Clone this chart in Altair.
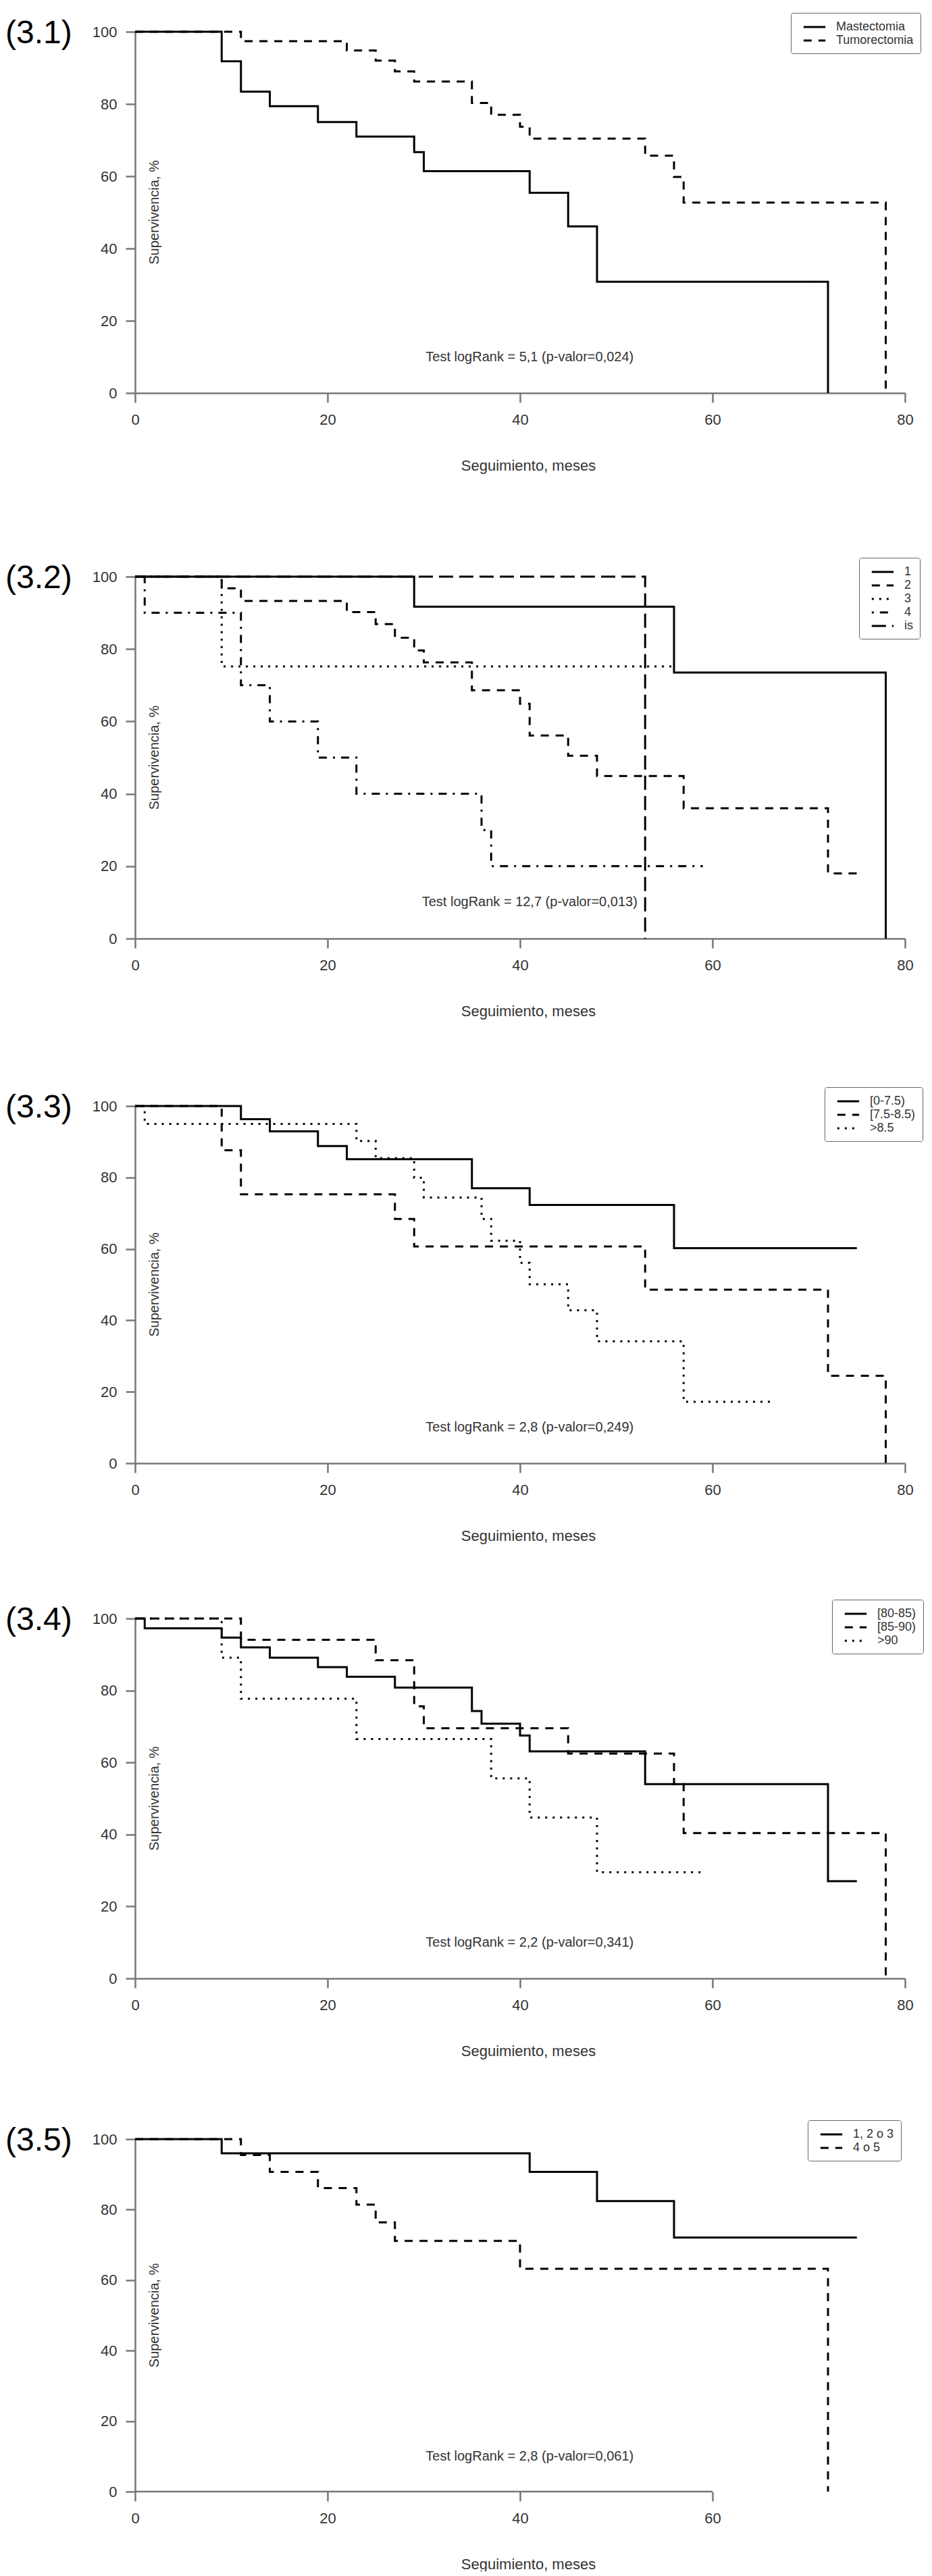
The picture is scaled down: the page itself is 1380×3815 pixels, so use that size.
import altair as alt
import pandas as pd

FONT = "Liberation Sans"
GRIS = "#777777"
TEXTO = "#333333"

# (3.1) tipo de cirugia
mastectomia_t = [0, 9, 11, 14, 19, 23, 29, 30, 41, 45, 48, 72]
mastectomia_s = [100, 91.8, 83.4, 79.4, 75.0, 71.0, 66.7, 61.4, 55.4, 46.1, 30.8, 0]
tumorectomia_t = [0, 11, 22, 25, 27, 29, 35, 37, 40, 41, 53, 56, 57, 78]
tumorectomia_s = [100, 97.4, 94.8, 92.0, 89.0, 86.2, 80.3, 77.0, 73.7, 70.4, 65.7, 59.8, 52.7, 0]

# (3.2) estadio
e1_t = [0, 29, 56, 78]
e1_s = [100, 91.7, 73.5, 0]
e2_t = [0, 9, 11, 22, 25, 27, 29, 30, 35, 40, 41, 45, 48, 57, 72, 75]
e2_s = [100, 96.8, 93.3, 90.2, 86.9, 83.1, 79.6, 76.3, 68.6, 64.9, 56.1, 50.5, 44.9, 36.0, 18.0, 18.0]
e3_t = [0, 9, 56]
e3_s = [100, 75.2, 75.2]
e4_t = [0, 1, 11, 14, 19, 23, 36, 37, 59]
e4_s = [100, 90, 70, 60, 50, 40, 30, 20, 20]
eis_t = [0, 53]
eis_s = [100, 0]

# (3.3)
c1_t = [0, 11, 14, 19, 22, 35, 41, 56, 75]
c1_s = [100, 96.3, 92.9, 88.8, 85.1, 77.0, 72.3, 60.2, 60.2]
c2_t = [0, 9, 11, 27, 29, 53, 72, 78]
c2_s = [100, 87.6, 75.3, 68.4, 60.7, 48.6, 24.5, 0]
c3_t = [0, 1, 23, 25, 29, 30, 36, 37, 40, 41, 45, 48, 57, 66]
c3_s = [100, 95.0, 90.2, 85.4, 79.9, 74.4, 68.4, 62.3, 56.1, 50.1, 42.8, 34.1, 17.2, 17.2]

# (3.4)
d1_t = [0, 1, 9, 11, 14, 19, 22, 27, 35, 36, 40, 41, 53, 72, 75]
d1_s = [100, 97.3, 94.7, 92.0, 89.1, 86.5, 83.8, 80.8, 74.3, 70.8, 67.5, 63.1, 54.0, 27.0, 27.0]
d2_t = [0, 11, 25, 29, 30, 45, 56, 57, 78]
d2_s = [100, 94.1, 88.4, 75.6, 69.5, 62.5, 54.0, 40.4, 0]
d3_t = [0, 9, 11, 23, 37, 41, 48, 59]
d3_s = [100, 89.1, 77.7, 66.5, 55.6, 44.7, 29.5, 29.5]

# (3.5)
f1_t = [0, 9, 41, 48, 56, 75]
f1_s = [100, 96.0, 90.7, 82.4, 72.1, 72.1]
f2_t = [0, 11, 14, 19, 23, 25, 27, 40, 72]
f2_s = [100, 95.5, 90.7, 86.1, 81.4, 76.4, 71.1, 63.2, 0]

SOLID = [1, 0]
DASHED = [12, 10]
DOTTED = [3, 8]
DOTDASH = [3, 9, 12, 9]
LONGDASH = [21, 9]


def panel(etiqueta, series, nombres, trazos, test, legend_x, extra, height,
          x_ticks=(0, 20, 40, 60, 80)):
    rows = []
    for nombre, (ts, ss) in zip(nombres, series):
        for t, s in zip(ts, ss):
            rows.append({"t": t, "s": s, "grupo": nombre})
    df = pd.DataFrame(rows)

    full_axis = len(x_ticks) == 5
    xenc = alt.X("t:Q", scale=alt.Scale(domain=[0, 80], nice=False),
                 axis=alt.Axis(values=list(x_ticks), title="Seguimiento, meses",
                               titleFont=FONT, titleFontSize=22, titleFontWeight="normal",
                               titleColor=TEXTO, titleY=107, titleX=582,
                               titleBaseline="middle", titleAlign="center",
                               labelFont=FONT, labelFontSize=22, labelColor=TEXTO,
                               labelPadding=15, labelFlush=False, tickSize=14,
                               tickWidth=2.5, tickColor=GRIS, domain=full_axis,
                               domainColor=GRIS, domainWidth=2.5, grid=False))
    yenc = alt.Y("s:Q", scale=alt.Scale(domain=[0, 100], nice=False),
                 axis=alt.Axis(values=[0, 20, 40, 60, 80, 100], title=None,
                               labelFont=FONT, labelFontSize=22, labelColor=TEXTO,
                               labelPadding=13, tickSize=14, tickWidth=2.5,
                               tickColor=GRIS, domainColor=GRIS, domainWidth=2.5,
                               grid=False))

    # legend rows 19px tall, line symbols ~32px long
    lineas = alt.Chart(df).mark_line(
        interpolate="step-after", strokeWidth=3, color="black", strokeCap="butt"
    ).encode(
        x=xenc, y=yenc,
        strokeDash=alt.StrokeDash(
            "grupo:N",
            scale=alt.Scale(domain=nombres, range=trazos),
            legend=alt.Legend(
                title=None, orient="none", legendX=legend_x, legendY=-28,
                strokeColor="#666666", fillColor="white", cornerRadius=3,
                padding=10, symbolType="M-1.7,0H1.7", symbolSize=361,
                symbolStrokeWidth=3, symbolStrokeColor="black",
                symbolFillColor="transparent", symbolOffset=14,
                labelFont=FONT, labelFontSize=18, labelColor=TEXTO,
                labelAlign="left", labelOffset=21, rowPadding=0,
            ),
        ),
    )

    notas = pd.DataFrame({"t": [41, 2], "s": [10, 50],
                          "txt": [test, "Supervivencia, %"]})
    test_txt = alt.Chart(notas.iloc[[0]]).mark_text(
        font=FONT, fontSize=20, color=TEXTO
    ).encode(x=xenc, y=yenc, text="txt:N")
    ylab = alt.Chart(notas.iloc[[1]]).mark_text(
        font=FONT, fontSize=20, color=TEXTO, angle=270
    ).encode(x=xenc, y=yenc, text="txt:N")

    marca = alt.Chart(pd.DataFrame({"lab": [etiqueta]})).mark_text(
        font=FONT, fontSize=48, color="black", align="left", baseline="middle"
    ).encode(x=alt.value(-192), y=alt.value(3), text="lab:N")

    capas = [lineas, test_txt, ylab, marca]

    if not full_axis:
        eje = pd.DataFrame({"t": [x_ticks[0]], "t2": [x_ticks[-1]], "s": [0]})
        capas.append(alt.Chart(eje).mark_rule(color=GRIS, strokeWidth=2.5).encode(
            x=xenc, x2="t2:Q", y=yenc))

    if extra > 0:
        capas.append(alt.Chart(pd.DataFrame({"a": [0]})).mark_rule(
            color="white", strokeWidth=1
        ).encode(x=alt.value(0), y=alt.value(-28 - extra), y2=alt.value(-28)))

    return alt.layer(*capas).properties(width=1140, height=height)


p1 = panel("(3.1)",
           [(mastectomia_t, mastectomia_s), (tumorectomia_t, tumorectomia_s)],
           ["Mastectomia", "Tumorectomia"], [SOLID, DASHED],
           "Test logRank = 5,1 (p-valor=0,024)", 971, 0, 535)
p2 = panel("(3.2)",
           [(e1_t, e1_s), (e2_t, e2_s), (e3_t, e3_s), (e4_t, e4_s), (eis_t, eis_s)],
           ["1", "2", "3", "4", "is"], [SOLID, DASHED, DOTTED, DOTDASH, LONGDASH],
           "Test logRank = 12,7 (p-valor=0,013)", 1072, 42, 536)
p3 = panel("(3.3)",
           [(c1_t, c1_s), (c2_t, c2_s), (c3_t, c3_s)],
           ["[0-7.5)", "[7.5-8.5)", ">8.5"], [SOLID, DASHED, DOTTED],
           "Test logRank = 2,8 (p-valor=0,249)", 1021, 18, 529)
p4 = panel("(3.4)",
           [(d1_t, d1_s), (d2_t, d2_s), (d3_t, d3_s)],
           ["[80-85)", "[85-90)", ">90"], [SOLID, DASHED, DOTTED],
           "Test logRank = 2,2 (p-valor=0,341)", 1032, 0, 533)
p5 = panel("(3.5)",
           [(f1_t, f1_s), (f2_t, f2_s)],
           ["1, 2 o 3", "4 o 5"], [SOLID, DASHED],
           "Test logRank = 2,8 (p-valor=0,061)", 996, 8, 522,
           x_ticks=(0, 20, 40, 60))

chart = alt.vconcat(p1, p2, p3, p4, p5, spacing=83).resolve_scale(
    x="independent", y="independent", strokeDash="independent"
).resolve_legend(strokeDash="independent").properties(
    padding={"left": 0, "top": 10, "right": 0, "bottom": 0},
    background="white",
).configure_view(strokeWidth=0)

chart.save("out.html", embed_options={"renderer": "svg", "actions": False})
